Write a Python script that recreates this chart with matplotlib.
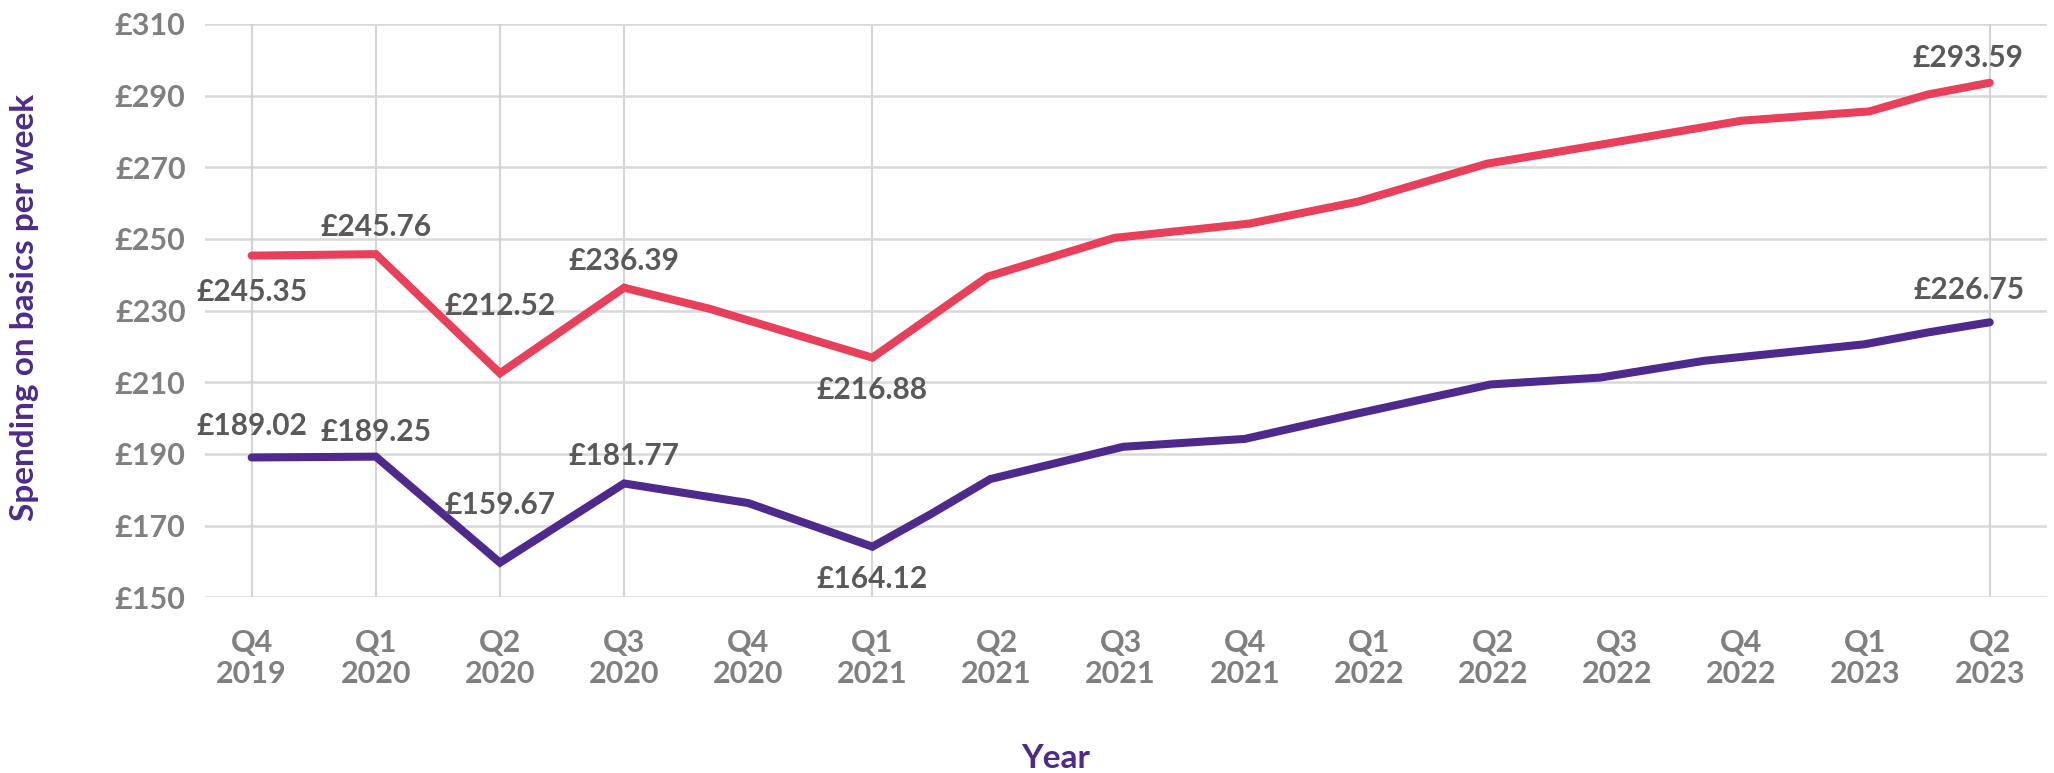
import matplotlib.pyplot as plt

plt.rcParams['font.family'] = ['Lato', 'DejaVu Sans']

# quarter labels (position 0 = Q4 2019)
quarters = ['Q4\n2019', 'Q1\n2020', 'Q2\n2020', 'Q3\n2020', 'Q4\n2020', 'Q1\n2021',
            'Q2\n2021', 'Q3\n2021', 'Q4\n2021', 'Q1\n2022', 'Q2\n2022', 'Q3\n2022',
            'Q4\n2022', 'Q1\n2023', 'Q2\n2023']

# red series
red_x = [0, 1, 2, 3, 3.69, 5, 5.93, 6.95, 8.04, 8.91, 9.95, 11, 12, 13.03, 13.5, 14]
red_y = [245.35, 245.76, 212.52, 236.39, 230.5, 216.88, 239.5, 250.3, 254.3, 260.4,
         271.0, 277.1, 283.0, 285.6, 290.3, 293.59]

# purple series
purple_x = [0, 1, 2, 3, 4, 5, 5.46, 5.95, 7.02, 8.0, 8.87, 9.98, 10.86, 11.7, 12.99, 13.5, 14]
purple_y = [189.02, 189.25, 159.67, 181.77, 176.3, 164.12, 173.0, 183.0, 192.0, 194.2,
            201.0, 209.4, 211.3, 216.0, 220.6, 223.9, 226.75]

# labelled points: (index into series, dx px, dy px)
red_labels = [(0, 0, -36), (1, 0, 27), (2, 0, 67), (3, 0, 27), (5, 0, -32), (15, -22, 25)]
purple_labels = [(0, 0, 31), (1, 0, 25), (2, 0, 58), (3, 0, 27), (5, 0, -32), (16, -21, 32)]

yticks = [150, 170, 190, 210, 230, 250, 270, 290, 310]
vgrid = [0, 1, 2, 3, 5, 14]

red = '#E8405A'
purple = '#4E2A8C'
label_grey = '#595959'
tick_grey = '#808080'

fig = plt.figure(figsize=(20.54, 7.73), dpi=100)
ax = fig.add_axes([0.0998, 0.2273, 0.8967, 0.7417])

for y in yticks:
    ax.axhline(y, color='#d9d9d9', lw=1.8, zorder=0)
for x in vgrid:
    ax.axvline(x, color='#d4d4d4', lw=1.5, zorder=0)

ax.plot(red_x, red_y, color=red, lw=5.8, solid_capstyle='round', solid_joinstyle='miter', zorder=3)
ax.plot(purple_x, purple_y, color=purple, lw=5.8, solid_capstyle='round', solid_joinstyle='miter', zorder=3)

px = 0.72
for xs, ys, labels in [(red_x, red_y, red_labels), (purple_x, purple_y, purple_labels)]:
    for i, dx, dy in labels:
        ax.annotate(f'£{ys[i]:.2f}', (xs[i], ys[i]), xytext=(dx * px, dy * px),
                    textcoords='offset points', ha='center', va='center',
                    fontsize=21.5, fontweight='bold', color=label_grey, zorder=4)

ax.set_xlim(-0.376, 14.46)
ax.set_ylim(150, 310)
ax.set_xticks(range(len(quarters)))
ax.set_xticklabels(quarters, linespacing=1.1)
ax.set_yticks(yticks)
ax.set_yticklabels([f'£{v}' for v in yticks])
ax.tick_params(axis='both', length=0, labelsize=22, labelcolor=tick_grey)
ax.tick_params(axis='x', pad=23)
ax.tick_params(axis='y', pad=14)
for lab in ax.get_xticklabels() + ax.get_yticklabels():
    lab.set_fontweight('bold')
for s in ax.spines.values():
    s.set_visible(False)

fig.text(0.0117, 0.6016, 'Spending on basics per week', rotation=90, ha='center', va='center',
         fontsize=24, fontweight='bold', color=purple)
fig.text(0.514, 0.019, 'Year', ha='center', va='center', fontsize=24, fontweight='bold', color=purple)

fig.savefig('out.png', dpi=100)
